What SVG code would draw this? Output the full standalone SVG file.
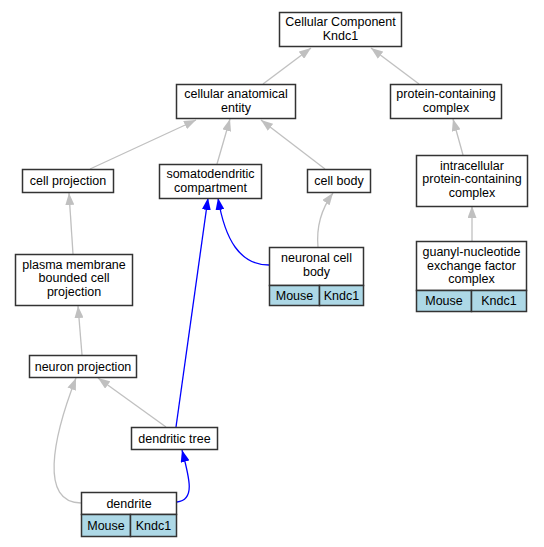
<svg xmlns="http://www.w3.org/2000/svg" width="544" height="547" viewBox="0 0 544 547">
<style>
.box{fill:#fff;stroke:#333;stroke-width:1.5}
.cell{fill:#add8e6;stroke:#333;stroke-width:1.5}
text{font-family:"Liberation Sans",Arial,sans-serif;font-size:12.5px;fill:#000;text-anchor:middle}
.g{fill:none;stroke:#c0c0c0;stroke-width:1.3}
.b{fill:none;stroke:#0000ff;stroke-width:1.3}
</style>
<defs>
<marker id="ag" viewBox="0 0 12 9" refX="12" refY="4.5" markerWidth="12" markerHeight="9" markerUnits="userSpaceOnUse" orient="auto"><path d="M0,0 L12,4.5 L0,9 z" fill="#c0c0c0"/></marker>
<marker id="ab" viewBox="0 0 12 9" refX="12" refY="4.5" markerWidth="12" markerHeight="9" markerUnits="userSpaceOnUse" orient="auto"><path d="M0,0 L12,4.5 L0,9 z" fill="#0000ff"/></marker>
</defs>
<rect width="544" height="547" fill="#fff"/>
<g id="edges">
<path class="g" marker-end="url(#ag)" d="M263,84 L311,48"/>
<path class="g" marker-end="url(#ag)" d="M419,84 L371,48"/>
<path class="g" marker-end="url(#ag)" d="M90,169 L196,120"/>
<path class="g" marker-end="url(#ag)" d="M217,164 L230,119"/>
<path class="g" marker-end="url(#ag)" d="M325,169 L261,120"/>
<path class="g" marker-end="url(#ag)" d="M463,155 L453,119"/>
<path class="g" marker-end="url(#ag)" d="M73,254 L69,193"/>
<path class="g" marker-end="url(#ag)" d="M318,247 C316,225 322,208 333,193"/>
<path class="b" marker-end="url(#ab)" d="M269,265 C240,265 225,240 218,198"/>
<path class="g" marker-end="url(#ag)" d="M472,241 L472,206"/>
<path class="g" marker-end="url(#ag)" d="M82,355 L78,306"/>
<path class="g" marker-end="url(#ag)" d="M166,427 L98,378"/>
<path class="b" marker-end="url(#ab)" d="M176,427 L208,198"/>
<path class="g" marker-end="url(#ag)" d="M81,503 C40,503 52,440 76,378"/>
<path class="b" marker-end="url(#ab)" d="M177,502 C195,500 190,480 182,450"/>
</g>
<g id="n_cc"><rect class="box" x="279.5" y="12.5" width="122" height="34"/><text x="340.5" y="26">Cellular Component</text><text x="340.5" y="39.5">Kndc1</text></g>
<g id="n_cae"><rect class="box" x="176.5" y="84.5" width="119" height="34"/><text x="236" y="98">cellular anatomical</text><text x="236" y="111.5">entity</text></g>
<g id="n_pcc"><rect class="box" x="390.5" y="84.5" width="111" height="34"/><text x="446" y="98">protein-containing</text><text x="446" y="111.5">complex</text></g>
<g id="n_cp"><rect class="box" x="22.5" y="169.5" width="91" height="23"/><text x="68" y="185">cell projection</text></g>
<g id="n_sdc"><rect class="box" x="159.5" y="164.5" width="102" height="34"/><text x="210.5" y="178">somatodendritic</text><text x="210.5" y="191.5">compartment</text></g>
<g id="n_cb"><rect class="box" x="307.5" y="169.5" width="63" height="23"/><text x="339" y="185">cell body</text></g>
<g id="n_ipcc"><rect class="box" x="416.5" y="155.5" width="111" height="51"/><text x="472" y="169.5">intracellular</text><text x="472" y="183">protein-containing</text><text x="472" y="196.5">complex</text></g>
<g id="n_pmb"><rect class="box" x="15.5" y="254.5" width="117" height="51"/><text x="74" y="268.5">plasma membrane</text><text x="74" y="282">bounded cell</text><text x="74" y="295.5">projection</text></g>
<g id="n_ncb"><rect class="box" x="269.5" y="247.5" width="94" height="38"/><rect class="cell" x="269.5" y="285.5" width="50" height="20"/><rect class="cell" x="319.5" y="285.5" width="44" height="20"/><text x="316.5" y="262">neuronal cell</text><text x="316.5" y="275.5">body</text><text x="294.5" y="300">Mouse</text><text x="341.5" y="300">Kndc1</text></g>
<g id="n_gnef"><rect class="box" x="416.5" y="241.5" width="110" height="49"/><rect class="cell" x="416.5" y="290.5" width="55" height="21"/><rect class="cell" x="471.5" y="290.5" width="55" height="21"/><text x="471.5" y="256">guanyl-nucleotide</text><text x="471.5" y="269.5">exchange factor</text><text x="471.5" y="283">complex</text><text x="444" y="305">Mouse</text><text x="499" y="305">Kndc1</text></g>
<g id="n_np"><rect class="box" x="29.5" y="355.5" width="107" height="22"/><text x="83" y="371">neuron projection</text></g>
<g id="n_dt"><rect class="box" x="131.5" y="427.5" width="86" height="22"/><text x="174.5" y="443">dendritic tree</text></g>
<g id="n_d"><rect class="box" x="81.5" y="492.5" width="95" height="22"/><rect class="cell" x="81.5" y="514.5" width="49" height="22"/><rect class="cell" x="130.5" y="514.5" width="46" height="22"/><text x="129" y="508">dendrite</text><text x="106" y="530">Mouse</text><text x="153.5" y="530">Kndc1</text></g>
</svg>
